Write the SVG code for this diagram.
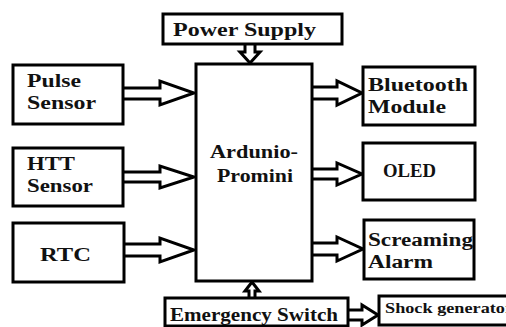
<svg xmlns="http://www.w3.org/2000/svg" width="506" height="327" viewBox="0 0 506 327">
<style>
.box{fill:#fff;stroke:#000;stroke-width:3}
.arr{fill:#fff;stroke:#000;stroke-width:3;stroke-linejoin:miter}
text{font-family:"Liberation Serif","Times New Roman",serif;font-weight:bold;fill:#111;font-size:18px}
.sm{font-size:15px}
</style>
<rect width="506" height="327" fill="#fff"/>
<g id="connectors">
<path class="arr" d="M123,88 H160 V81 L194,93 L160,105 V99 H123"/>
<path class="arr" d="M123,172 H160 V166 L194,177 L160,188 V182 H123"/>
<path class="arr" d="M124,244 H160 V238 L194,250 L160,262 V256 H124"/>
<path class="arr" d="M312,87 H337 V81 L362,93 L337,105 V99 H312"/>
<path class="arr" d="M312,169 H337 V163 L362,174 L337,185 V179 H312"/>
<path class="arr" d="M312,243 H337 V237 L363,249 L337,261 V255 H312"/>
<path class="arr" d="M348,310 H362 V305 L378,315 L362,325 V320 H348"/>
<path class="arr" d="M245,44 V52 H240 L250,63 L260,52 H255 V44"/>
<path class="arr" d="M249,298 V291 H245 L252,282 L259,291 H255 V298"/>
</g>
<g id="arduino"><rect class="box" x="196" y="64" width="116" height="217"/>
<text x="210" y="158" textLength="88" lengthAdjust="spacingAndGlyphs">Ardunio-</text>
<text x="217" y="182" textLength="76" lengthAdjust="spacingAndGlyphs">Promini</text></g>
<g id="power"><rect class="box" x="163" y="14" width="179" height="30"/>
<text x="173" y="36" textLength="143" lengthAdjust="spacingAndGlyphs">Power Supply</text></g>
<g id="pulse"><rect class="box" x="13" y="65" width="110" height="59"/>
<text x="27" y="87" textLength="54" lengthAdjust="spacingAndGlyphs">Pulse</text>
<text x="27" y="109" textLength="69" lengthAdjust="spacingAndGlyphs">Sensor</text></g>
<g id="htt"><rect class="box" x="13" y="148" width="110" height="58"/>
<text x="27" y="170" textLength="48" lengthAdjust="spacingAndGlyphs">HTT</text>
<text x="27" y="192" textLength="66" lengthAdjust="spacingAndGlyphs">Sensor</text></g>
<g id="rtc"><rect class="box" x="13" y="223" width="111" height="59"/>
<text x="40" y="261" textLength="51" lengthAdjust="spacingAndGlyphs">RTC</text></g>
<g id="bluetooth"><rect class="box" x="363" y="67" width="112" height="58"/>
<text x="368" y="91" textLength="100" lengthAdjust="spacingAndGlyphs">Bluetooth</text>
<text x="368" y="113" textLength="78" lengthAdjust="spacingAndGlyphs">Module</text></g>
<g id="oled"><rect class="box" x="363" y="143" width="112" height="57"/>
<text x="383" y="177" textLength="53" lengthAdjust="spacingAndGlyphs">OLED</text></g>
<g id="alarm"><rect class="box" x="364" y="220" width="110" height="59"/>
<text x="368" y="246" textLength="105" lengthAdjust="spacingAndGlyphs">Screaming</text>
<text x="368" y="268" textLength="65" lengthAdjust="spacingAndGlyphs">Alarm</text></g>
<g id="emergency"><rect class="box" x="165" y="298" width="183" height="28"/>
<text x="170" y="321" textLength="168" lengthAdjust="spacingAndGlyphs">Emergency Switch</text></g>
<g id="shock"><rect class="box" x="379" y="296" width="135" height="29"/>
<text class="sm" x="385" y="313" textLength="128" lengthAdjust="spacingAndGlyphs">Shock generator</text></g>
</svg>
